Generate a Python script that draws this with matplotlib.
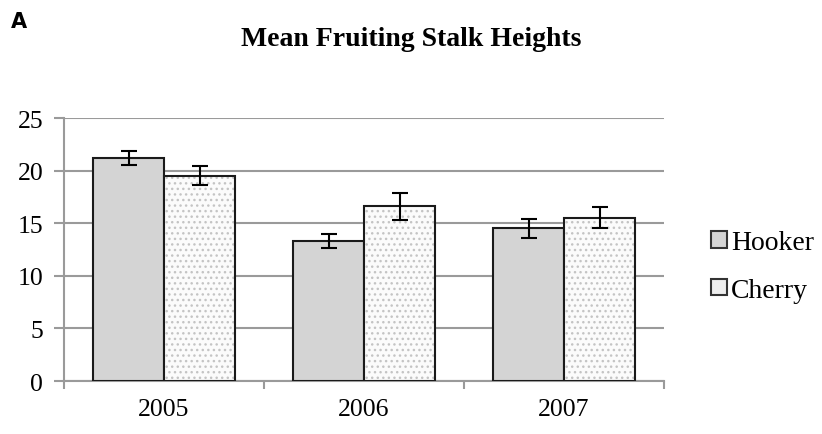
import matplotlib.pyplot as plt
import matplotlib.patches as mpatches
import numpy as np

years = ['2005', '2006', '2007']
hooker = [21.2, 13.3, 14.5]
hooker_err = [0.7, 0.7, 0.9]
cherry = [19.5, 16.6, 15.5]
cherry_err = [0.9, 1.3, 1.0]

plt.rcParams['font.family'] = ['Liberation Serif', 'DejaVu Serif']
plt.rcParams['hatch.linewidth'] = 1.0

fig = plt.figure(figsize=(8.22, 4.35), dpi=100)
ax = fig.add_axes([0.0779, 0.1218, 0.73, 0.6046])

x = np.arange(len(years))
w = 0.355
grid_c = '#9a9a9a'

ax.bar(x - w/2, hooker, w, color='#d4d4d4', edgecolor='#1a1a1a', linewidth=1.5, zorder=3)
ax.bar(x + w/2, cherry, w, color='#fbfbfb', edgecolor='#c4c4c4', hatch='...', linewidth=0, zorder=3)
ax.bar(x + w/2, cherry, w, color='none', edgecolor='#1a1a1a', linewidth=1.5, zorder=4)
ax.errorbar(x - w/2, hooker, yerr=hooker_err, fmt='none', ecolor='black', elinewidth=1.5, capsize=6, capthick=1.5, zorder=5)
ax.errorbar(x + w/2, cherry, yerr=cherry_err, fmt='none', ecolor='black', elinewidth=1.5, capsize=6, capthick=1.5, zorder=5)

ax.set_xlim(-0.5, 2.5)
ax.set_ylim(0, 25)
ax.set_yticks([0, 5, 10, 15, 20, 25])
ax.yaxis.grid(True, color=grid_c, linewidth=1.5, zorder=0)
ax.set_axisbelow(True)
ax.set_xticks(x)
ax.set_xticklabels(years)
ax.set_xticks([-0.5, 0.5, 1.5, 2.5], minor=True)
ax.tick_params(axis='x', which='major', length=0, pad=12, labelsize=18.5)
ax.tick_params(axis='x', which='minor', length=6, color=grid_c, width=1.5, direction='out')
ax.tick_params(axis='y', length=7, color=grid_c, width=1.5, labelsize=18.5, pad=8)
for s in ['top', 'right']:
    ax.spines[s].set_visible(False)
for s in ['left', 'bottom']:
    ax.spines[s].set_color(grid_c)
    ax.spines[s].set_linewidth(1.5)

fig.text(0.013, 0.935, 'A', fontsize=15, fontweight='bold', family='DejaVu Sans')
fig.text(0.5, 0.91, 'Mean Fruiting Stalk Heights', fontsize=20, fontweight='bold', ha='center', va='center')

h1 = mpatches.Patch(facecolor='#d4d4d4', edgecolor='#333333', linewidth=1.5)
h2 = mpatches.Patch(facecolor='#eeeeee', edgecolor='#333333', linewidth=1.5)
fig.legend([h1, h2], ['Hooker', 'Cherry'], loc='center left', bbox_to_anchor=(0.835, 0.385),
           frameon=False, fontsize=20, handlelength=0.55, handleheight=0.55, handletextpad=0.15,
           labelspacing=0.82)

fig.savefig('out.png', dpi=100)
